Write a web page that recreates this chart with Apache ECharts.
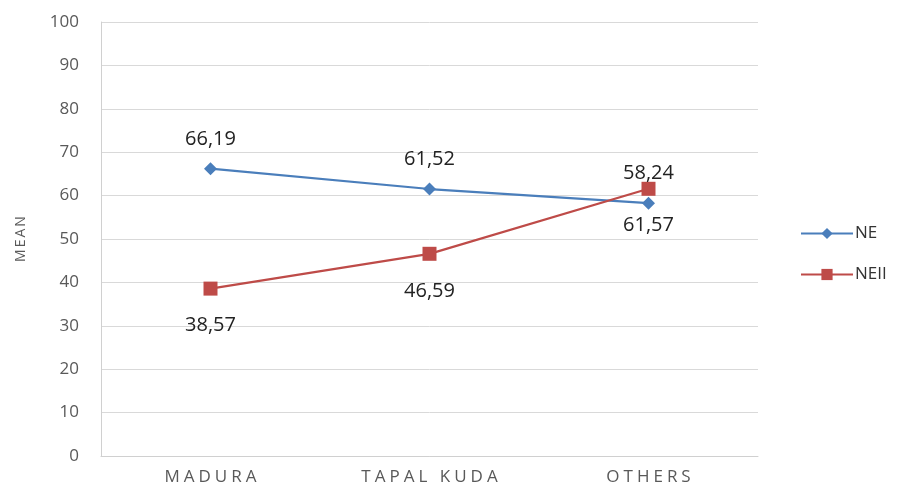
<!DOCTYPE html>
<html><head><meta charset="utf-8">
<script src="https://cdn.jsdelivr.net/npm/echarts@6/dist/echarts.min.js"></script>
<style>html,body{margin:0;padding:0;background:#fff}#c{width:900px;height:488px}</style>
</head><body><div id="c"></div>
<script>
const categories = ['MADURA', 'TAPAL KUDA', 'OTHERS'];
const neValues = [66.19, 61.52, 58.24];
const neiiValues = [38.57, 46.59, 61.57];
const yTicks = [0, 10, 20, 30, 40, 50, 60, 70, 80, 90, 100];
const yAxisName = 'MEAN';

const fmt = p => String(p.value).replace('.', ',');
// spaced letters, text kept as real characters
const spaced = s => s.split('').map(ch => '{s|' + ch + '}').join('');

const chart = echarts.init(document.getElementById('c'));
chart.setOption({
  animation: false,
  backgroundColor: '#fff',
  grid: { left: 101, right: 142, top: 22, bottom: 32 },
  legend: {
    orient: 'vertical', left: 795, top: 220, itemGap: 24,
    itemWidth: 52, itemHeight: 14,
    textStyle: { fontFamily: 'Open Sans', fontSize: 17, color: '#333', padding: [0, 0, 0, -3] },
    data: ['NE', 'NEII']
  },
  xAxis: {
    type: 'category', data: categories, boundaryGap: true,
    axisLine: { lineStyle: { color: '#d0d0d0', width: 1 } },
    axisTick: { show: false },
    axisLabel: {
      interval: 0, margin: 13,
      fontFamily: 'Open Sans', fontSize: 17, color: '#595959',
      formatter: v => spaced(v),
      rich: { s: { fontFamily: 'Open Sans', fontSize: 17, color: '#595959', padding: [0, 2, 0, 2] } }
    }
  },
  yAxis: {
    type: 'value', min: yTicks[0], max: yTicks[yTicks.length - 1], interval: 10,
    name: spaced(yAxisName), nameLocation: 'middle', nameGap: 73, nameRotate: 90,
    nameTextStyle: {
      fontFamily: 'Open Sans', fontSize: 14, color: '#595959',
      rich: { s: { fontFamily: 'Open Sans', fontSize: 14, color: '#595959', padding: [0, 1, 0, 1] } }
    },
    axisLine: { show: true, lineStyle: { color: '#d0d0d0' } },
    axisTick: { show: false },
    axisLabel: { fontFamily: 'Open Sans', fontSize: 17, color: '#595959', margin: 22 },
    splitLine: { lineStyle: { color: '#d9d9d9', width: 1 } }
  },
  series: [
    {
      name: 'NE', type: 'line', data: neValues,
      symbol: 'diamond', symbolSize: 13,
      lineStyle: { color: '#4a7ebb', width: 2.25 },
      itemStyle: { color: '#4a7ebb' },
      label: { show: true, position: 'top', distance: 13, formatter: fmt,
        fontFamily: 'Open Sans', fontSize: 20, color: '#222' }
    },
    {
      name: 'NEII', type: 'line', data: neiiValues,
      symbol: 'rect', symbolSize: 14,
      lineStyle: { color: '#be4b48', width: 2.25 },
      itemStyle: { color: '#be4b48' },
      label: { show: true, position: 'bottom', distance: 20, formatter: fmt,
        fontFamily: 'Open Sans', fontSize: 20, color: '#222' }
    }
  ]
});
</script></body></html>
